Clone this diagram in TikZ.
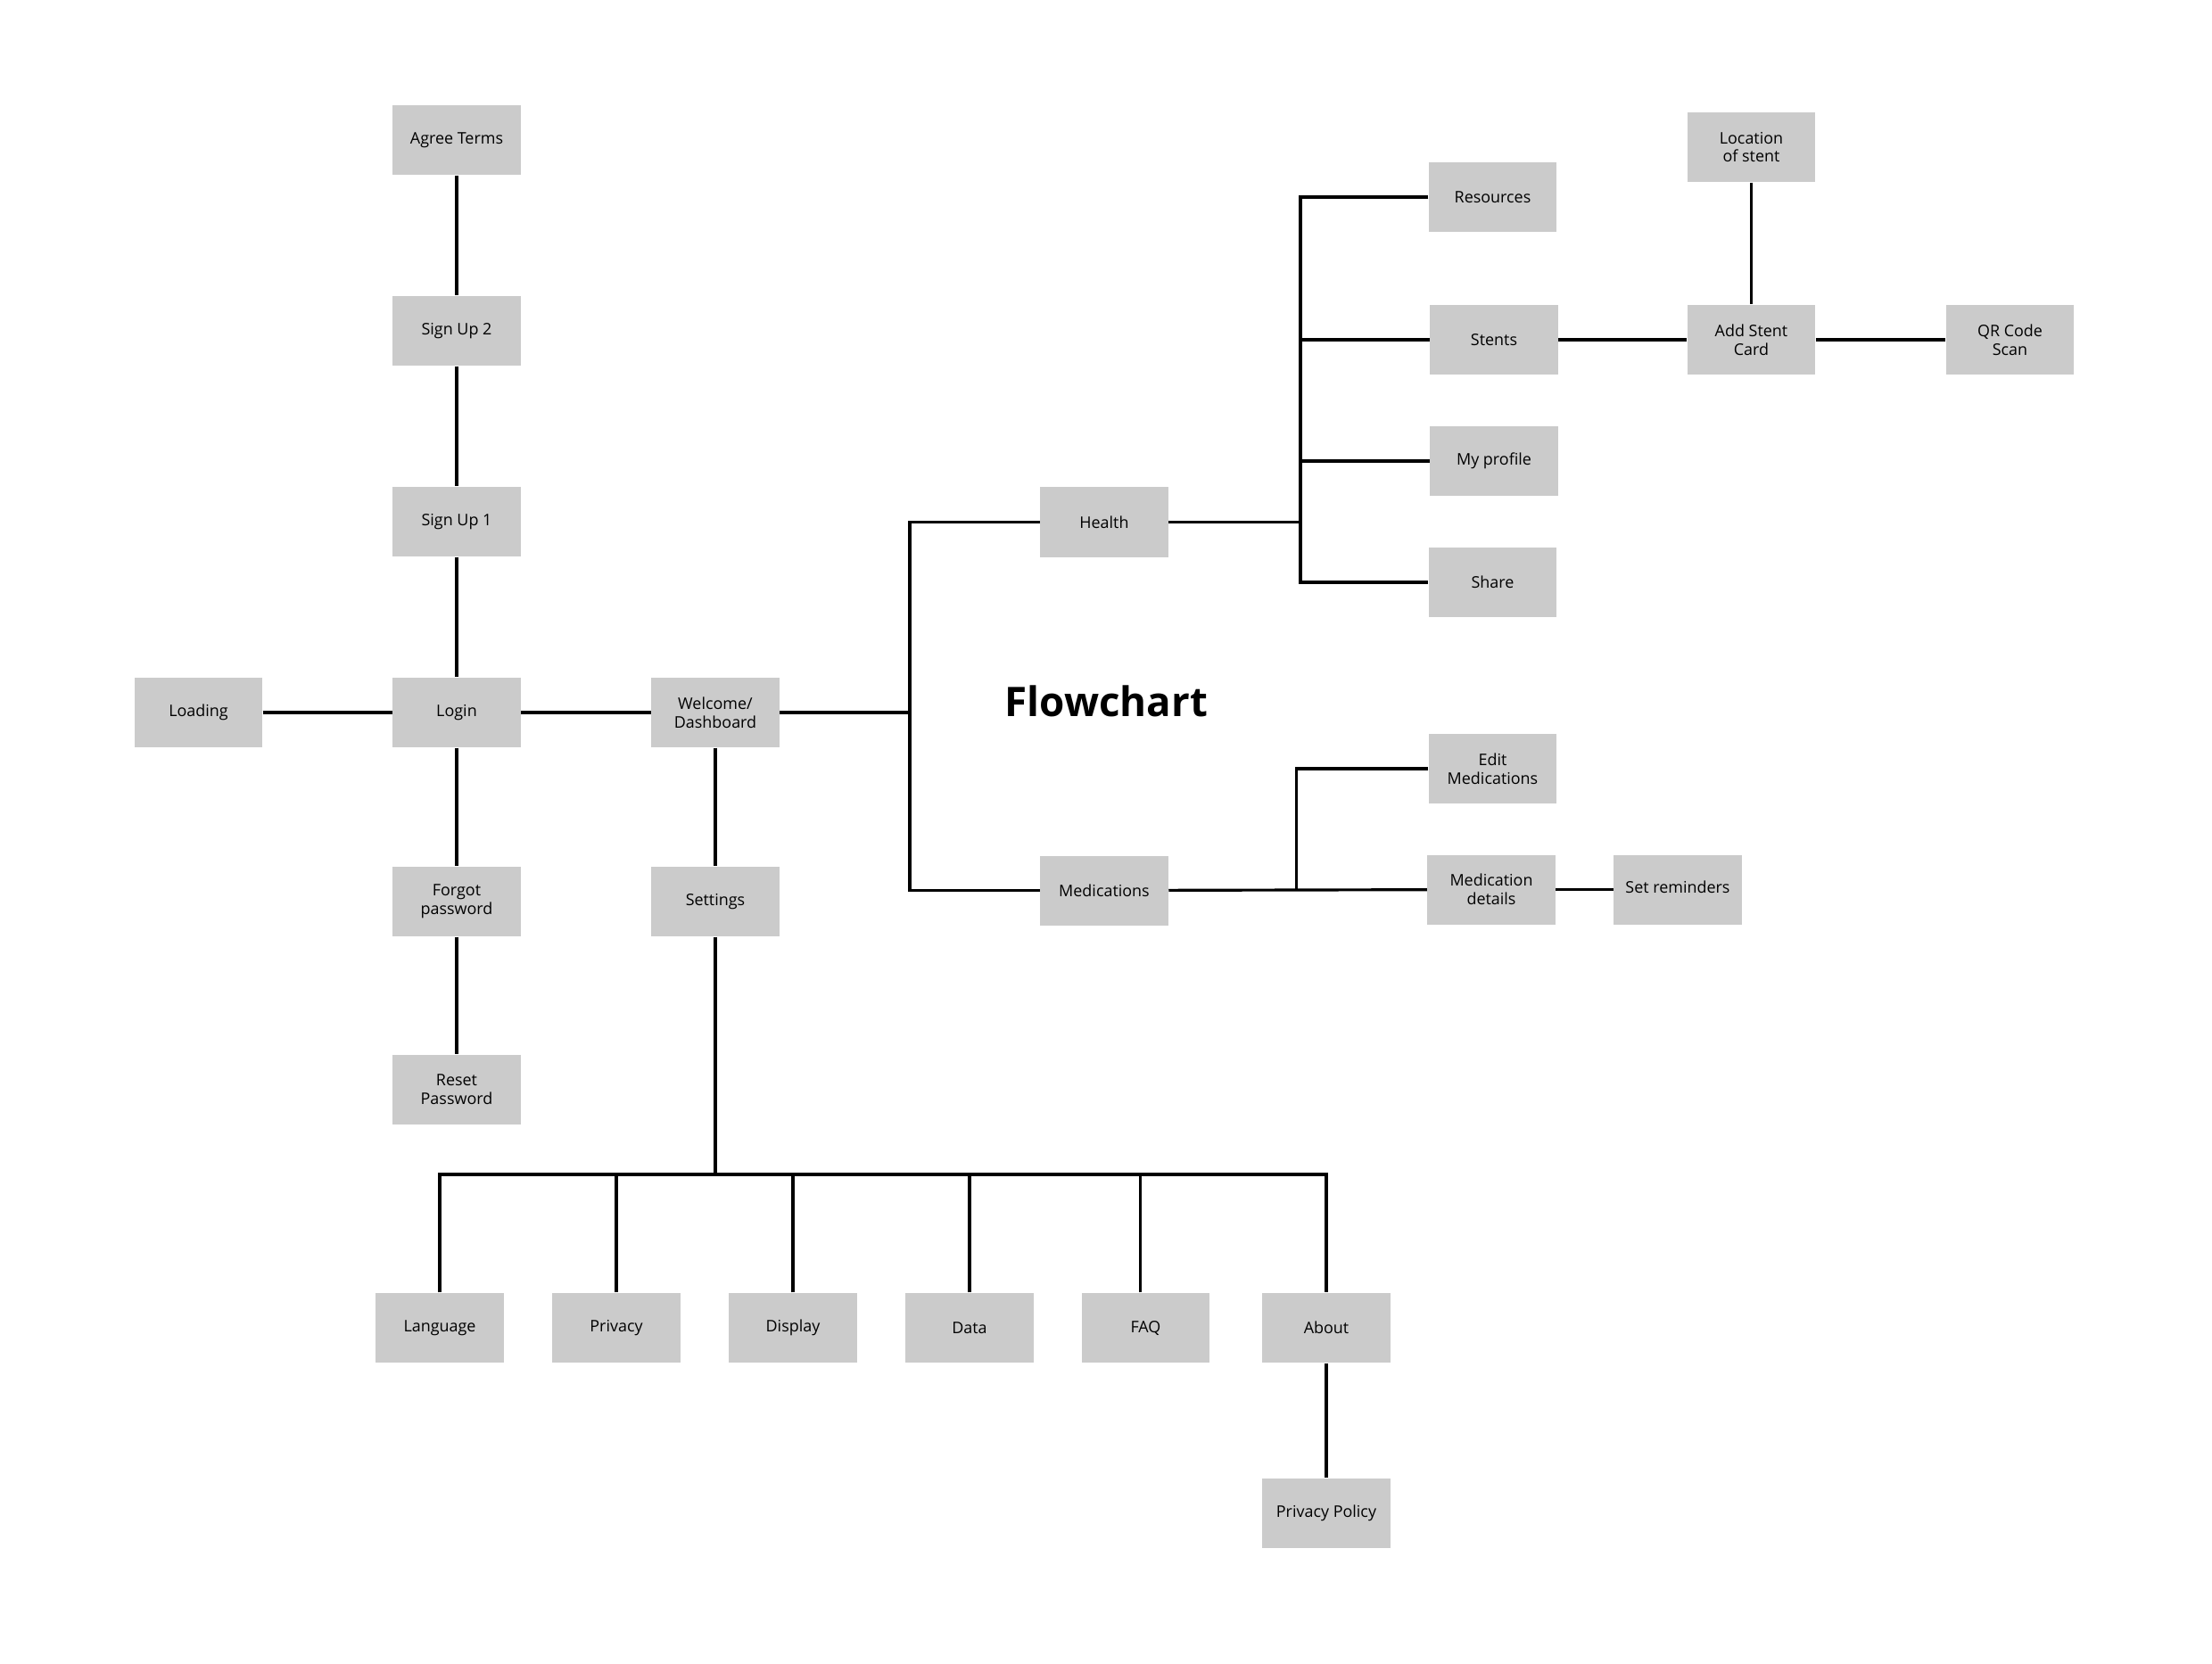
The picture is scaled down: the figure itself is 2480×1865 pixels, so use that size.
\documentclass[tikz,border=0pt]{standalone}
\usepackage{fontspec}
\setmainfont{Open Sans}
\definecolor{boxgray}{RGB}{203,203,203}
\begin{document}
\begin{tikzpicture}[x=0.01cm,y=-0.01cm,
  box/.style={rectangle, fill=boxgray, draw=none, inner sep=0pt,
    minimum width=1.43cm, minimum height=0.78cm, align=center,
    font=\fontsize{5.1pt}{5.9pt}\selectfont},
  conn/.style={draw=black, line width=0.9pt},
  ttl/.style={font=\fontsize{13pt}{15pt}\selectfont\bfseries, inner sep=0pt}]
\useasboundingbox[fill=white] (0,0) rectangle (2480,1865);
% nodes
\node[box] (agree)   at (512,157)   {Agree Terms};
\node[box] (su2)     at (512,371)   {Sign Up 2};
\node[box] (su1)     at (512,585)   {Sign Up 1};
\node[box] (login)   at (512,799)   {Login};
\node[box] (loading) at (222.5,799) {Loading};
\node[box] (welcome) at (802,799)   {Welcome/\\Dashboard};
\node[box] (forgot)  at (512,1011)  {Forgot\\password};
\node[box] (reset)   at (512,1222)  {Reset\\Password};
\node[box] (settings) at (802,1011) {Settings};
\node[box] (health)  at (1238,585.5) {Health};
\node[box] (meds)    at (1238,998.5) {Medications};
\node[box] (res)     at (1673.5,221) {Resources};
\node[box] (stents)  at (1675,381)  {Stents};
\node[box] (prof)    at (1675,517)  {My profile};
\node[box] (share)   at (1673.5,653) {Share};
\node[box] (loc)     at (1963.5,165) {Location\\of stent};
\node[box] (add)     at (1963.5,381) {Add Stent\\Card};
\node[box] (qr)      at (2253.5,381) {QR Code\\Scan};
\node[box] (edit)    at (1673.5,862) {Edit\\Medications};
\node[box] (mdet)    at (1672,997.5) {Medication\\details};
\node[box] (setrem)  at (1881,997.5) {\raisebox{0.06cm}{Set reminders}};
\node[box] (lang)    at (493,1489)  {Language};
\node[box] (priv)    at (691,1489)  {Privacy};
\node[box] (disp)    at (889,1489)  {Display};
\node[box] (data)    at (1087,1489) {Data};
\node[box] (faq)     at (1284.5,1489) {FAQ};
\node[box] (about)   at (1487,1489) {About};
\node[box] (pp)      at (1487,1697) {Privacy Policy};
\node[ttl, anchor=base] (title) at (1240.5,803) {Flowchart};
% junction coordinates
\coordinate (tx) at (1020,799);
\coordinate (hx) at (1458,585.5);
\coordinate (mx) at (1453.5,998.5);
\coordinate (bus) at (802,1317);
% connectors
\draw[conn] (agree) -- (su2);
\draw[conn] (su2) -- (su1);
\draw[conn] (su1) -- (login);
\draw[conn] (loading) -- (login);
\draw[conn] (login) -- (welcome);
\draw[conn] (login) -- (forgot);
\draw[conn] (forgot) -- (reset);
\draw[conn] (welcome) -- (settings);
\draw[conn] (welcome) -- (tx);
\draw[conn] (health.west) -- (health.west -| tx) -- (meds.west -| tx) -- (meds.west);
\draw[conn] (health) -- (hx);
\draw[conn] (res.west) -- (res.west -| hx) -- (share.west -| hx) -- (share.west);
\draw[conn] (stents.west) -- (stents.west -| hx);
\draw[conn] (prof.west) -- (prof.west -| hx);
\draw[conn] (stents) -- (add);
\draw[conn] (loc) -- (add);
\draw[conn] (add) -- (qr);
\draw[conn] (meds) -- (mdet);
\draw[conn] (edit.west) -- (edit.west -| mx) -- (mx);
\draw[conn] (mdet) -- (setrem);
\draw[conn] (settings) -- (bus);
\draw[conn] (lang.north) -- (lang.north |- bus) -- (about.north |- bus) -- (about.north);
\draw[conn] (priv.north) -- (priv.north |- bus);
\draw[conn] (disp.north) -- (disp.north |- bus);
\draw[conn] (data.north) -- (data.north |- bus);
\draw[conn] ([xshift=-0.06cm]faq.north) -- ([xshift=-0.06cm]faq.north |- bus);
\draw[conn] (about) -- (pp);
\end{tikzpicture}
\end{document}
